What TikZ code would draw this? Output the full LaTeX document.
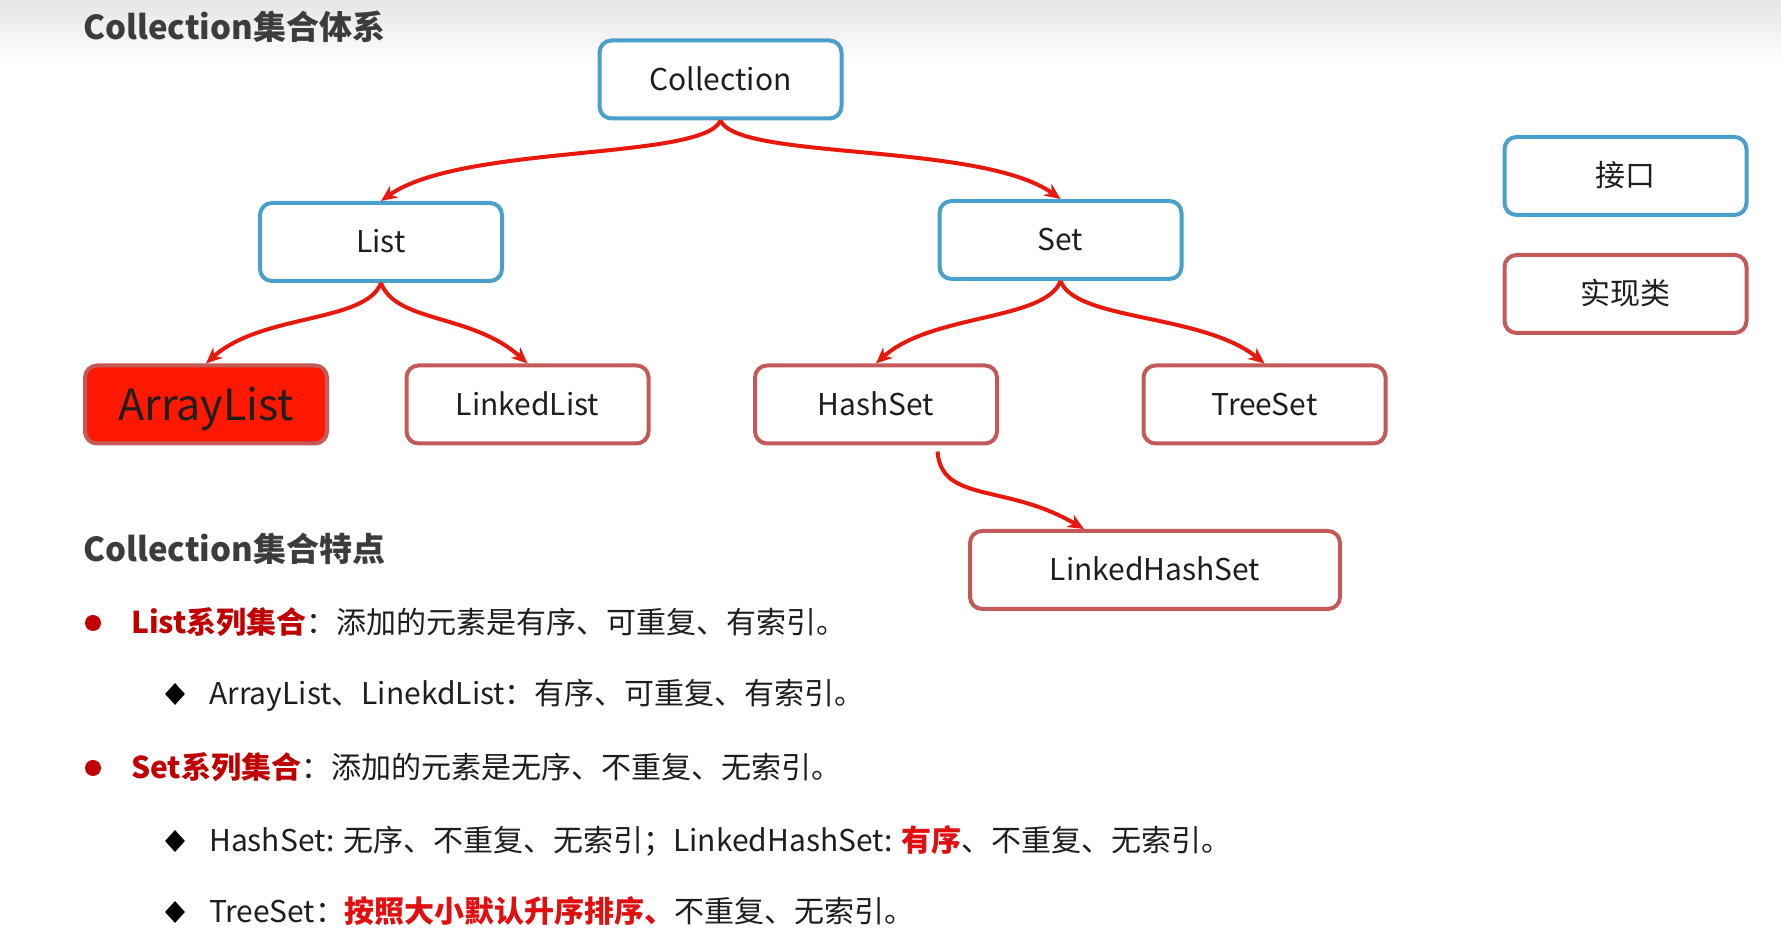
\documentclass[tikz,border=0pt]{standalone}
\usepackage{fontspec}
\setmainfont{Noto Sans CJK SC}
\usetikzlibrary{arrows.meta,calc,shapes.geometric}
\definecolor{ifblue}{HTML}{4A9FCB}
\definecolor{impred}{HTML}{C45A58}
\definecolor{arrred}{HTML}{E8190C}
\definecolor{alfill}{HTML}{FF1800}
\definecolor{darkred}{HTML}{C00000}
\definecolor{brightred}{HTML}{E01010}
\definecolor{titlegray}{HTML}{3C3C3C}
\definecolor{textblack}{HTML}{1E1E1E}
\begin{document}
\begin{tikzpicture}[x=1pt,y=1pt,
  box/.style={rounded corners=12pt, line width=4pt, minimum width=242pt, minimum height=78pt, inner sep=0pt, fill=white, font=\fontsize{30}{36}\selectfont, text=textblack, text height=26pt, text depth=4pt},
  iface/.style={box, draw=ifblue},
  impl/.style={box, draw=impred},
  conn/.style={draw=arrred, line width=4pt, -{Stealth[length=16pt,width=14pt,inset=5pt]}},
  body/.style={anchor=west, inner sep=0pt, font=\fontsize{30}{36}\selectfont, text=textblack, text height=26pt, text depth=4pt},
  head/.style={anchor=west, inner sep=0pt, font=\bfseries\fontsize{33}{40}\selectfont, text=titlegray, text height=29pt, text depth=4pt},
  dot/.style={circle, fill=darkred, minimum size=16pt, inner sep=0pt},
  dia/.style={diamond, fill=black, minimum width=20pt, minimum height=22pt, inner sep=0pt}
]
\useasboundingbox (0,0) rectangle (1781,936);
\fill[white] (0,0) rectangle (1781,936);
\shade[top color=black!10, bottom color=white] (0,872) rectangle (1781,936);

\node[head] (t1) at (83,909) {Collection集合体系};

\node[iface] (coll) at (720.5,856.5) {Collection};
\node[iface] (list) at (381,694) {List};
\node[iface] (set) at (1060.5,696) {Set};
\node[impl, fill=alfill, font=\fontsize{43}{49}\selectfont, text height=37pt, text depth=5pt] (al) at (206,531.5) {ArrayList};
\node[impl] (ll) at (527.5,531.5) {LinkedList};
\node[impl] (hs) at (876,531.5) {HashSet};
\node[impl] (ts) at (1264.5,531.5) {TreeSet};
\node[impl, minimum width=370pt] (lhs) at (1155,366) {LinkedHashSet};
\node[iface] (k1) at (1625.5,760) {接口};
\node[impl] (k2) at (1625.5,642) {实现类};

\draw[conn] (coll.south) .. controls +(-17,-40) and +(80,57) .. (list.north);
\draw[conn] (coll.south) .. controls +(17,-40) and +(-80,57) .. (set.north);
\draw[conn] (list.south) .. controls +(-15,-40) and +(55,50) .. (al.north);
\draw[conn] (list.south) .. controls +(15,-40) and +(-55,50) .. (ll.north);
\draw[conn] (set.south) .. controls +(-15,-40) and +(55,50) .. (hs.north);
\draw[conn] (set.south) .. controls +(15,-40) and +(-62,50) .. (ts.north);
\coordinate (hsout) at ($(hs.south west)!0.75!(hs.south east)+(0,-6)$);
\coordinate (lhsin) at ($(lhs.north west)!0.31!(lhs.north east)$);
\draw[conn] (hsout) .. controls +(4,-52) and +(-78,46) .. (lhsin);

\node[head] (t2) at (83,387) {Collection集合特点};
\node[dot] (b1) at (93,313) {};
\node[body] (l1) at (131,313) {\textcolor{darkred}{\bfseries List系列集合}：添加的元素是有序、可重复、有索引。};
\node[dia] (d1) at (175,242) {};
\node[body] (l2) at (209,242) {ArrayList、LinekdList：有序、可重复、有索引。};
\node[dot] (b2) at (93,168) {};
\node[body] (l3) at (131,168) {\textcolor{darkred}{\bfseries Set系列集合}：添加的元素是无序、不重复、无索引。};
\node[dia] (d2) at (175,95) {};
\node[body] (l4) at (209,95) {HashSet: 无序、不重复、无索引；LinkedHashSet: \textcolor{brightred}{\bfseries 有序}、不重复、无索引。};
\node[dia] (d3) at (175,24) {};
\node[body] (l5) at (209,24) {TreeSet：\textcolor{brightred}{\bfseries 按照大小默认升序排序、}不重复、无索引。};
\end{tikzpicture}
\end{document}
